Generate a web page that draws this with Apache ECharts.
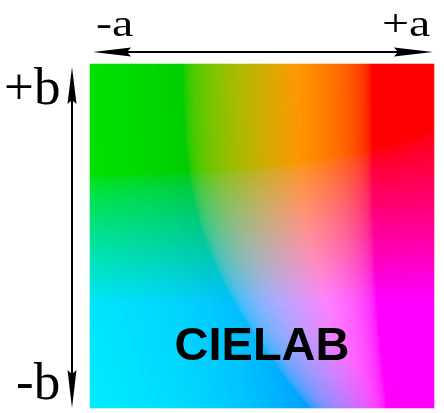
<!DOCTYPE html>
<html>
<head>
<meta charset="utf-8">
<script src="https://cdn.jsdelivr.net/npm/echarts@6/dist/echarts.min.js"></script>
<style>
html,body{margin:0;padding:0;background:#fff;}
#chart{width:444px;height:413px;}
</style>
</head>
<body>
<div id="chart"></div>
<script>
// ---- chart data ----
const lightness = 72;               // L* of the slice
const aRange = [-158, 158];         // a* from left (-a) to right (+a)
const bRange = [-130, 158];         // b* from bottom (-b) to top (+b)
const cellsPerSide = 172;           // resolution of the colour grid
const aLabels = ['-a', '+a'];
const bLabels = ['+b', '-b'];
const title = 'CIELAB';

// ---- CIELAB (D50) -> sRGB (Bradford adapted) with clipping ----
function labToRgb(L, a, b) {
  const d = 6 / 29;
  const finv = t => (t > d ? t * t * t : 3 * d * d * (t - 4 / 29));
  const fy = (L + 16) / 116, fx = fy + a / 500, fz = fy - b / 200;
  const X = 0.9642 * finv(fx), Y = finv(fy), Z = 0.8249 * finv(fz);
  const lin = [
    3.1338561 * X - 1.6168667 * Y - 0.4906146 * Z,
    -0.9787684 * X + 1.9161415 * Y + 0.0334540 * Z,
    0.0719453 * X - 0.2289914 * Y + 1.4052427 * Z
  ];
  const out = lin.map(c => {
    c = Math.min(1, Math.max(0, c));
    c = c <= 0.0031308 ? 12.92 * c : 1.055 * Math.pow(c, 1 / 2.4) - 0.055;
    return Math.round(Math.min(1, Math.max(0, c)) * 255);
  });
  return 'rgb(' + out.join(',') + ')';
}

const xCats = [], yCats = [];
for (let i = 0; i < cellsPerSide; i++) {
  xCats.push(aRange[0] + (aRange[1] - aRange[0]) * (i + 0.5) / cellsPerSide);
  yCats.push(bRange[0] + (bRange[1] - bRange[0]) * (i + 0.5) / cellsPerSide);
}
const cells = [];
for (let i = 0; i < cellsPerSide; i++) {
  for (let j = 0; j < cellsPerSide; j++) {
    cells.push({
      value: [i, j, lightness],
      itemStyle: { color: labToRgb(lightness, xCats[i], yCats[j]) }
    });
  }
}

const chart = echarts.init(document.getElementById('chart'), null, { renderer: 'canvas' });
const serif = '"Liberation Serif","DejaVu Serif",serif';
const black = '#000';

chart.setOption({
  animation: false,
  backgroundColor: '#fff',
  grid: { left: 90, top: 64, width: 344, height: 344 },
  xAxis: { type: 'category', data: xCats, show: false },
  yAxis: { type: 'category', data: yCats, show: false },
  series: [{
    type: 'heatmap',
    progressive: 0,
    data: cells,
    itemStyle: { borderWidth: 0 },
    emphasis: { disabled: true }
  }],
  graphic: [
    // horizontal a-axis arrow
    { type: 'line', z: 100, shape: { x1: 110, y1: 52, x2: 414, y2: 52 }, style: { stroke: black, lineWidth: 2 } },
    { type: 'polygon', z: 100, shape: { points: [[93, 52], [131, 47.5], [127, 52], [131, 56.5]] }, style: { fill: black } },
    { type: 'polygon', z: 100, shape: { points: [[433, 52], [394, 47.5], [398, 52], [394, 56.5]] }, style: { fill: black } },
    // vertical b-axis arrow
    { type: 'line', z: 100, shape: { x1: 72, y1: 90, x2: 72, y2: 390 }, style: { stroke: black, lineWidth: 2 } },
    { type: 'polygon', z: 100, shape: { points: [[72, 67], [67.5, 104], [72, 100], [76.5, 104]] }, style: { fill: black } },
    { type: 'polygon', z: 100, shape: { points: [[72, 408], [67.5, 370], [72, 374], [76.5, 370]] }, style: { fill: black } },
    // labels
    { type: 'text', z: 100, x: 96, y: 45, scaleY: 0.78, style: { text: aLabels[0], font: '48px ' + serif, fill: black, verticalAlign: 'bottom' } },
    { type: 'text', z: 100, x: 382, y: 45, scaleY: 0.78, style: { text: aLabels[1], font: '48px ' + serif, fill: black, verticalAlign: 'bottom' } },
    { type: 'text', z: 100, x: 4, y: 117, style: { text: bLabels[0], font: '53px ' + serif, fill: black, verticalAlign: 'bottom' } },
    { type: 'text', z: 100, x: 16, y: 412, style: { text: bLabels[1], font: '53px ' + serif, fill: black, verticalAlign: 'bottom' } },
    { type: 'text', z: 100, x: 262, y: 347, style: { text: title, font: 'bold 47px "Liberation Sans",Arial,sans-serif', fill: black, align: 'center', verticalAlign: 'middle' } }
  ]
});
</script>
</body>
</html>
